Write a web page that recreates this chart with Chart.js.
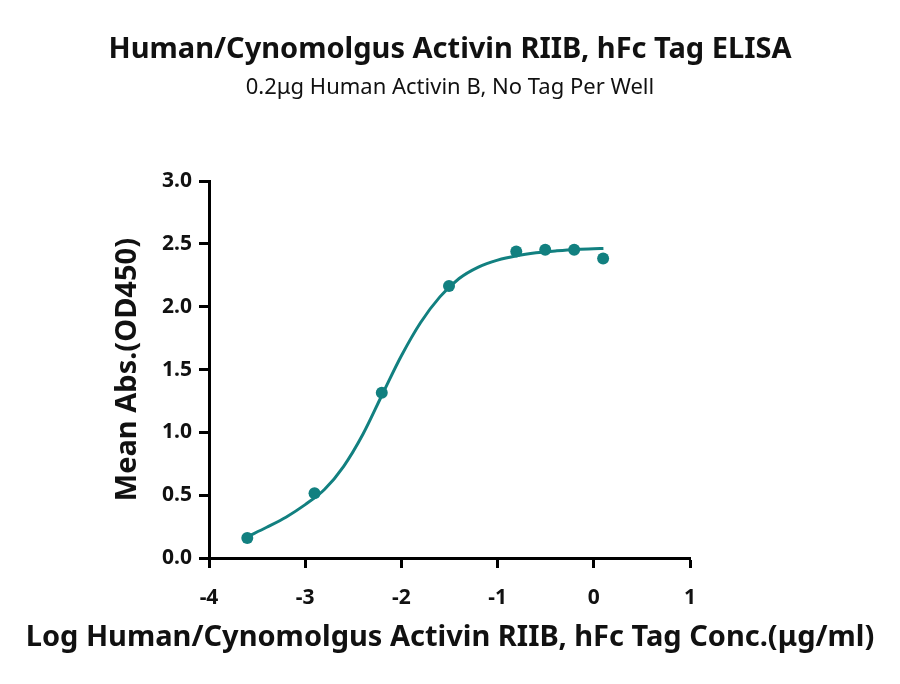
<!DOCTYPE html>
<html>
<head>
<meta charset="utf-8">
<script src="https://cdn.jsdelivr.net/npm/chart.js@4.4.1/dist/chart.umd.min.js"></script>
<style>
	html, body { margin: 0; padding: 0; background: #fff; }
	#wrap { width: 900px; height: 684px; }
</style>
</head>
<body>
<div id="wrap"><canvas id="elisa" width="900" height="684"></canvas></div>
<script>
// measured points (log conc., OD450)
const pointX = [-3.602, -2.903, -2.204, -1.505, -0.806, -0.505, -0.204, 0.097];
const pointY = [0.16, 0.515, 1.315, 2.165, 2.44, 2.455, 2.455, 2.385];

// fitted curve
const curveX = [-3.6, -3.4, -3.2, -3.0, -2.8, -2.6, -2.4, -2.2, -2.0, -1.8, -1.6, -1.4, -1.2, -1.0, -0.8, -0.6, -0.4, -0.2, 0.0, 0.1];
const curveY = [0.17, 0.245, 0.325, 0.425, 0.545, 0.73, 0.985, 1.30, 1.61, 1.875, 2.079, 2.225, 2.316, 2.372, 2.407, 2.43, 2.445, 2.457, 2.462, 2.464];

const xTicks = [-4, -3, -2, -1, 0, 1];
const yTicks = [0, 0.5, 1.0, 1.5, 2.0, 2.5, 3.0];

const xTitle = 'Log Human/Cynomolgus Activin RIIB, hFc Tag Conc.(μg/ml)';

const teal = '#128080';
const ink = '#111111';
const fam = '"Noto Sans", sans-serif';

function toXY(xs, ys) {
	let out = [];
	xs.forEach(function (x, i) { out.push({x: x, y: ys[i]}); });
	return out;
}

// x axis title is wider than the plot, so the scale's own title would squeeze it
const xTitlePlugin = {
	id: 'xTitle',
	afterDraw: function (chart) {
		let c = chart.ctx;
		c.save();
		c.font = 'bold 29px ' + fam;
		c.fillStyle = ink;
		c.textAlign = 'center';
		c.textBaseline = 'middle';
		c.fillText(xTitle, 450, 638);
		c.restore();
	}
};

let ctx = document.getElementById('elisa').getContext('2d');

new Chart(ctx, {
	type: 'scatter',
	data: {
		datasets: [{
			data: toXY(curveX, curveY),
			showLine: true,
			borderColor: teal,
			borderWidth: 3,
			pointRadius: 0,
			cubicInterpolationMode: 'monotone',
			fill: false
		}, {
			data: toXY(pointX, pointY),
			showLine: false,
			backgroundColor: teal,
			borderColor: teal,
			pointRadius: 6,
			pointBorderWidth: 0
		}]
	},
	plugins: [xTitlePlugin],
	options: {
		responsive: false,
		animation: false,
		devicePixelRatio: 1,
		layout: { padding: 0 },
		plugins: {
			legend: { display: false },
			tooltip: { enabled: false },
			title: {
				display: true,
				text: 'Human/Cynomolgus Activin RIIB, hFc Tag ELISA',
				color: ink,
				font: { family: fam, size: 29, weight: 'bold', lineHeight: 1.2 },
				padding: { top: 32, bottom: 0 }
			},
			subtitle: {
				display: true,
				text: '0.2μg Human Activin B, No Tag Per Well',
				color: ink,
				font: { family: fam, size: 22, weight: 'normal', lineHeight: 1.2 },
				padding: { top: 8, bottom: 80 }
			}
		},
		scales: {
			x: {
				type: 'linear',
				min: -4,
				max: 1,
				afterBuildTicks: function (scale) { scale.ticks = xTicks.map(v => ({value: v})); },
				afterFit: function (scale) { scale.height = 684 - 558; },
				border: { display: true, color: '#000', width: 3 },
				grid: { display: true, drawOnChartArea: false, drawTicks: true, tickLength: 10, tickWidth: 3, tickColor: '#000' },
				ticks: { color: ink, padding: 17, font: { family: fam, size: 21, weight: 'bold' } }
			},
			y: {
				min: 0,
				max: 3,
				afterBuildTicks: function (scale) { scale.ticks = yTicks.map(v => ({value: v})); },
				afterFit: function (scale) { scale.width = 209; },
				border: { display: true, color: '#000', width: 3 },
				grid: { display: true, drawOnChartArea: false, drawTicks: true, tickLength: 10, tickWidth: 3, tickColor: '#000' },
				ticks: {
					color: ink,
					padding: 7,
					font: { family: fam, size: 21, weight: 'bold' },
					callback: function (v) { return v.toFixed(1); }
				},
				title: {
					display: true,
					text: 'Mean Abs.(OD450)',
					color: ink,
					font: { family: fam, size: 29, weight: 'bold', lineHeight: 1.2 },
					padding: { top: 110, bottom: 0 }
				}
			},
			// empty right-hand box so the plot ends at x=690
			spacer: {
				type: 'linear',
				position: 'right',
				min: 0,
				max: 3,
				afterFit: function (scale) { scale.width = 900 - 690; },
				border: { display: false },
				grid: { display: false },
				ticks: { display: false }
			}
		}
	}
});
</script>
</body>
</html>
